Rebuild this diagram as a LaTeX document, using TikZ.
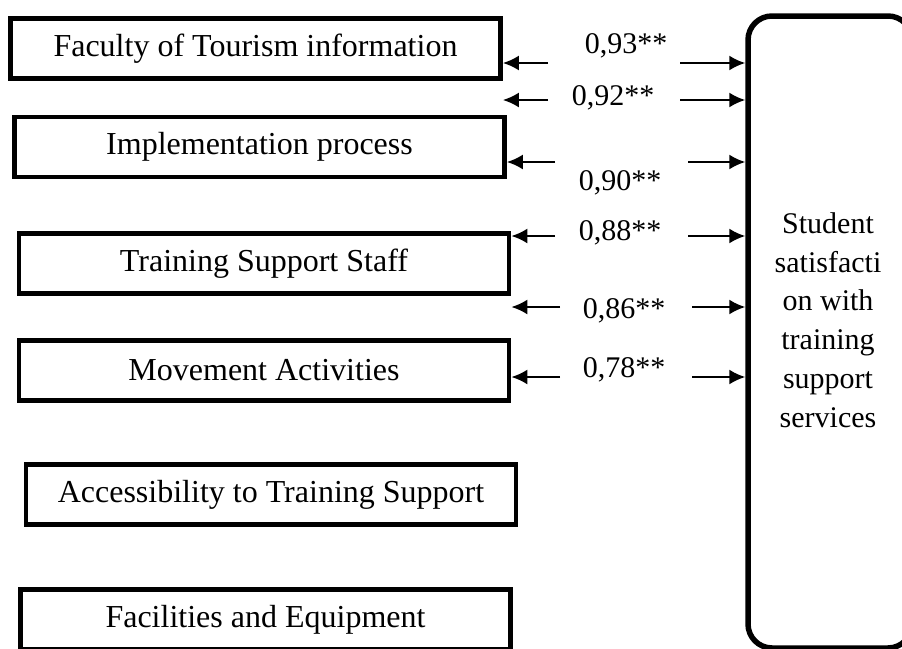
\documentclass[tikz,border=0pt]{standalone}
\usepackage{fontspec}
\setmainfont{Liberation Serif}
\usetikzlibrary{arrows.meta}
\usetikzlibrary{positioning}
\tikzset{>=Latex}

\begin{document}
\begin{tikzpicture}[x=1pt,y=-1pt,
      factor/.style={draw,
      rectangle,
      line width=4.8pt,
      minimum width=490pt,
      minimum height=60pt,
      font=\fontsize{32}{38}\selectfont},
      coef/.style={anchor=base, font=\fontsize{30}{36}\selectfont},
      line/.style={draw, line width=2pt, -{Latex[length=16pt,width=15pt]}}]
    \useasboundingbox (0,0) rectangle (902,648);
    \clip (0,0) rectangle (902,648);
    %% Factors
    \node [factor] at (255.5,48.5) (fac) {Faculty of Tourism information};
    \node [factor] at (259.5,147) (imp) {Implementation process};
    \node [factor] at (264,263.5) (staff) {Training Support Staff};
    \node [factor] at (264,370.5) (move) {Movement Activities};
    \node [factor] at (271,494.5) (acc) {Accessibility to Training Support};
    \node [factor] at (265.5,619.5) (facil) {Facilities and Equipment};
    %% Satisfaction
    \node [draw, rounded corners=24pt, line width=5.5pt,
      minimum width=164pt, minimum height=632pt] at (830,332) (sat) {};
    \node [align=center, font=\fontsize{30}{38.8}\selectfont] at (828,320) (satText)
      {Student\\satisfacti\\on with\\training\\support\\services};
    %% Coefficients
    \node [coef] at (626,53) (c93) {0,93**};
    \node [coef] at (613,105) (c92) {0,92**};
    \node [coef] at (620,190) (c90) {0,90**};
    \node [coef] at (620,240) (c88) {0,88**};
    \node [coef] at (624,318) (c86) {0,86**};
    \node [coef] at (624,377) (c78) {0,78**};
    %% Arrow tails
    \coordinate (l93) at (548,63);  \coordinate (r93) at (680,63);
    \coordinate (l92) at (548,100); \coordinate (r92) at (680,100);
    \coordinate (l90) at (555,162); \coordinate (r90) at (688,162);
    \coordinate (l88) at (555,236); \coordinate (r88) at (688,236);
    \coordinate (l86) at (560,307); \coordinate (r86) at (692,307);
    \coordinate (l78) at (560,377); \coordinate (r78) at (692,377);
    %% Arrows towards the factors
    \path [line] (l93) to (l93 -| fac.east);
    \path [line] (l92) to (l92 -| fac.east);
    \path [line] (l90) to (l90 -| imp.east);
    \path [line] (l88) to (l88 -| staff.east);
    \path [line] (l86) to (l86 -| staff.east);
    \path [line] (l78) to (l78 -| move.east);
    %% Arrows towards satisfaction
    \path [line] (r93) to (r93 -| sat.west);
    \path [line] (r92) to (r92 -| sat.west);
    \path [line] (r90) to (r90 -| sat.west);
    \path [line] (r88) to (r88 -| sat.west);
    \path [line] (r86) to (r86 -| sat.west);
    \path [line] (r78) to (r78 -| sat.west);
  \end{tikzpicture}
\end{document}
